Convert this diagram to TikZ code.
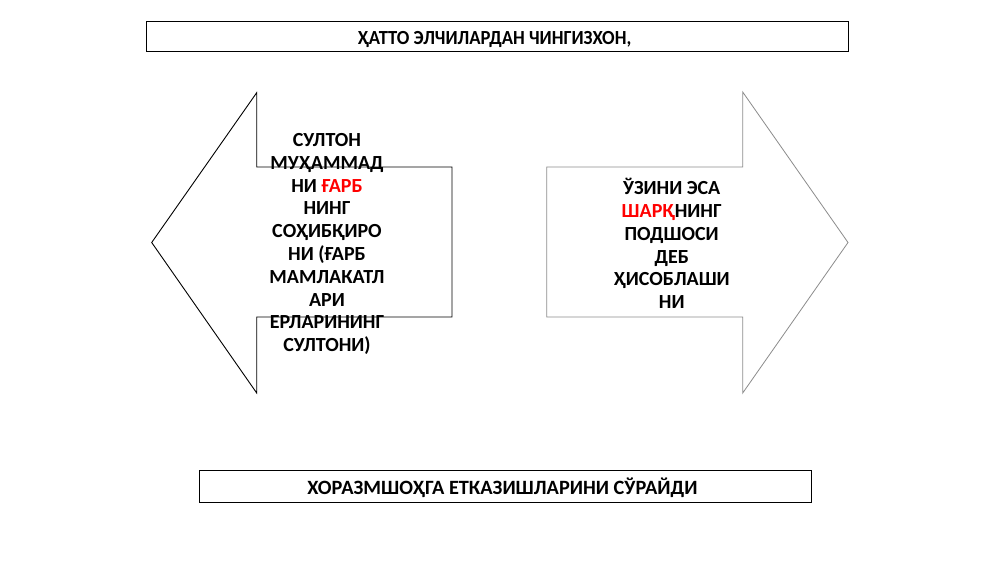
\documentclass[tikz,border=0pt]{standalone}
\usepackage{fontspec}
\setmainfont{Carlito}
\begin{document}
\begin{tikzpicture}[x=1pt,y=-1pt,
  box/.style={draw=black,line width=0.9pt},
  leftarrow/.style={draw=black,line width=0.9pt},
  rightarrow/.style={draw=black!45,line width=0.8pt},
  txt/.style={font=\fontsize{20}{22.8}\selectfont\bfseries,align=center,inner sep=0pt},
  hl/.style={}]
\useasboundingbox (0,0) rectangle (1000,562);
\fill[white] (0,0) rectangle (1000,562);
% top box
\draw[box] (146,21) rectangle (848,51);
\node[font=\fontsize{20}{24}\selectfont\bfseries,anchor=base,inner sep=0pt] (top) at (494.5,44.7) {\scalebox{0.93}[1]{ҲАТТО ЭЛЧИЛАРДАН ЧИНГИЗХОН,}};
% left arrow
\draw[leftarrow] (151.7,242.5) -- (256.7,92.7) -- (256.7,167) -- (452,167) -- (452,317) -- (256.7,317) -- (256.7,393) -- cycle;
\node[txt] (lt) at (327,244) {СУЛТОН\\МУҲАММАД\\НИ \textcolor{red}{ҒАРБ}\\НИНГ\\СОҲИБҚИРО\\НИ (ҒАРБ\\МАМЛАКАТЛ\\АРИ\\ЕРЛАРИНИНГ\\СУЛТОНИ)};
% right arrow
\draw[rightarrow] (546.7,167) -- (742.7,167) -- (742.7,92) -- (848,242.5) -- (742.7,393) -- (742.7,317) -- (546.7,317) -- cycle;
\node[txt] (rt) at (671.7,243.5) {ЎЗИНИ ЭСА\\\textcolor{red}{ШАРҚ}НИНГ\\ПОДШОСИ\\ДЕБ\\ҲИСОБЛАШИ\\НИ};
% bottom box
\draw[box] (199,470) rectangle (811,502);
\node[font=\fontsize{20.3}{24}\selectfont\bfseries,anchor=base,inner sep=0pt] (bot) at (502.5,494.7) {ХОРАЗМШОҲГА ЕТКАЗИШЛАРИНИ СЎРАЙДИ};
\end{tikzpicture}
\end{document}
